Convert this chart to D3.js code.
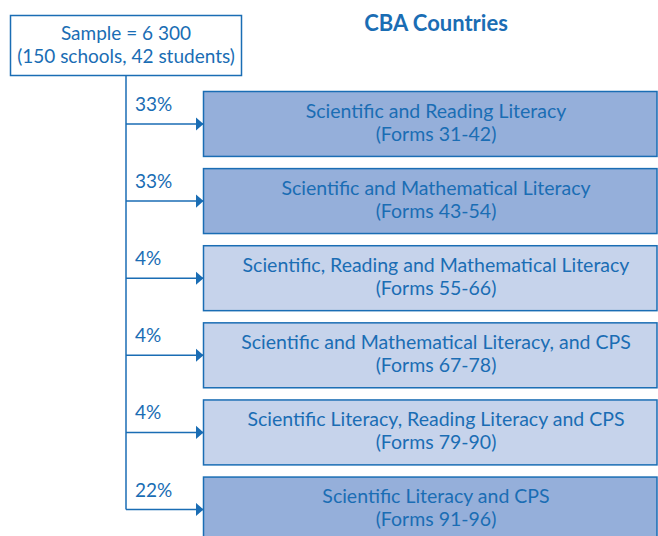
<!DOCTYPE html>
<html>
<head>
<meta charset="utf-8">
<script src="https://cdn.jsdelivr.net/npm/d3@7"></script>
<style>
  body { margin: 0; background: #fff; }
  svg { display: block; font-family: Lato, "Open Sans", sans-serif; }
</style>
</head>
<body>
<div id="chart"></div>
<script>
// data
var sampleLines = ["Sample = 6 300", "(150 schools, 42 students)"];
var title = "CBA Countries";
var percents = [33, 33, 4, 4, 4, 22];
var domains = [
  "Scientific and Reading Literacy",
  "Scientific and Mathematical Literacy",
  "Scientific, Reading and Mathematical Literacy",
  "Scientific and Mathematical Literacy, and CPS",
  "Scientific Literacy, Reading Literacy and CPS",
  "Scientific Literacy and CPS"
];
var forms = ["Forms 31-42", "Forms 43-54", "Forms 55-66", "Forms 67-78", "Forms 79-90", "Forms 91-96"];

var width = 658, height = 536;
var blue = "#1a6db4";

var svg = d3.select("#chart").append("svg")
    .attr("width", width)
    .attr("height", height);

svg.append("marker")
    .attr("id", "arrow")
    .attr("viewBox", "0 0 8 14")
    .attr("refX", 8)
    .attr("refY", 7)
    .attr("markerWidth", 8)
    .attr("markerHeight", 14)
    .attr("markerUnits", "userSpaceOnUse")
    .attr("orient", "auto")
    .append("path")
    .attr("d", "M 0 0 L 8 7 L 0 14 z")
    .style("fill", blue);

var idx = d3.range(domains.length);

var y = d3.scaleBand()
    .domain(idx)
    .range([91.5, 542])
    .paddingInner(0.158)
    .paddingOuter(0);

var fill = d3.scaleThreshold()
    .domain([10])
    .range(["#c6d3eb", "#95afda"]);

var trunkX = 126, boxX = 203.5, boxRight = 657;
var cx = 436;

// sample box
svg.append("rect")
    .attr("x", 10.5).attr("y", 15.5)
    .attr("width", 231).attr("height", 60)
    .attr("fill", "#fff")
    .attr("stroke", blue)
    .attr("stroke-width", 1.5);

svg.selectAll(".sample")
    .data(sampleLines)
    .enter()
    .append("text")
    .attr("class", "sample")
    .attr("x", 126)
    .attr("y", function(d, i){ return 40 + i * 23; })
    .attr("text-anchor", "middle")
    .attr("font-size", "19px")
    .attr("fill", blue)
    .text(function(d){ return d; });

svg.append("text")
    .attr("x", cx)
    .attr("y", 31)
    .attr("text-anchor", "middle")
    .attr("font-size", "22px")
    .attr("font-weight", "bold")
    .attr("fill", blue)
    .text(title);

// trunk
svg.append("line")
    .attr("x1", trunkX).attr("y1", 76)
    .attr("x2", trunkX).attr("y2", y(idx.length - 1) + y.bandwidth() / 2)
    .attr("stroke", blue)
    .attr("stroke-width", 1.5);

// branches
svg.selectAll(".branch")
    .data(idx)
    .enter()
    .append("line")
    .attr("class", "branch")
    .attr("x1", trunkX)
    .attr("y1", function(d){ return y(d) + y.bandwidth() / 2; })
    .attr("x2", boxX)
    .attr("y2", function(d){ return y(d) + y.bandwidth() / 2; })
    .attr("stroke", blue)
    .attr("stroke-width", 1.5)
    .attr("marker-end", "url(#arrow)");

svg.selectAll(".pct")
    .data(idx)
    .enter()
    .append("text")
    .attr("class", "pct")
    .attr("x", 135)
    .attr("y", function(d){ return y(d) + y.bandwidth() / 2 - 13; })
    .attr("font-size", "19px")
    .attr("fill", blue)
    .text(function(d){ return percents[d] + "%"; });

// boxes
svg.selectAll(".box")
    .data(idx)
    .enter()
    .append("rect")
    .attr("class", "box")
    .attr("x", boxX)
    .attr("y", function(d){ return y(d); })
    .attr("width", boxRight - boxX)
    .attr("height", y.bandwidth())
    .attr("fill", function(d){ return fill(percents[d]); })
    .attr("stroke", blue)
    .attr("stroke-width", 1.5);

svg.selectAll(".dom")
    .data(idx)
    .enter()
    .append("text")
    .attr("class", "dom")
    .attr("x", cx)
    .attr("y", function(d){ return y(d) + 26; })
    .attr("text-anchor", "middle")
    .attr("font-size", "19.5px")
    .attr("fill", blue)
    .text(function(d){ return domains[d]; });

svg.selectAll(".form")
    .data(idx)
    .enter()
    .append("text")
    .attr("class", "form")
    .attr("x", cx)
    .attr("y", function(d){ return y(d) + 49; })
    .attr("text-anchor", "middle")
    .attr("font-size", "19.5px")
    .attr("fill", blue)
    .text(function(d){ return "(" + forms[d] + ")"; });
</script>
</body>
</html>
